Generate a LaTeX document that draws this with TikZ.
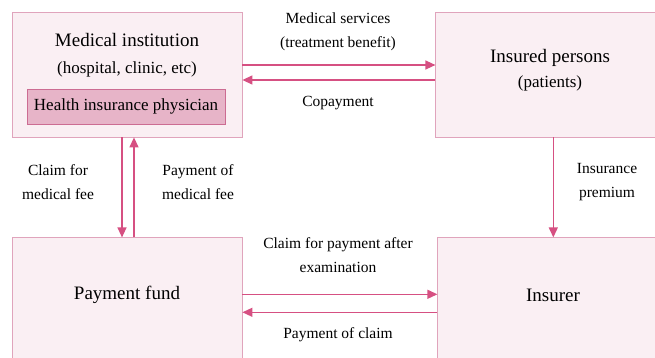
\documentclass[tikz,border=0pt]{standalone}
\usepackage{fontspec}
\setmainfont{Liberation Serif}
\usepackage{tikz}
\usetikzlibrary{positioning}
\usetikzlibrary{arrows.meta}
\definecolor{boxfill}{RGB}{250, 239, 243}
\definecolor{boxline}{RGB}{224, 164, 188}
\definecolor{docfill}{RGB}{231, 180, 200}
\definecolor{docline}{RGB}{204, 108, 146}
\definecolor{flowpink}{RGB}{214, 80, 130}

\begin{document}
\begin{tikzpicture}[
    x=1pt, y=-1pt,
    party/.style={draw=boxline, fill=boxfill, line width=0.8pt,
                  inner sep=0pt},
    physician/.style={draw=docline, fill=docfill, line width=0.8pt,
                  minimum width=198pt, minimum height=35pt, font=\fontsize{17}{20}\selectfont},
    title/.style={align=center, font=\fontsize{19}{27}\selectfont},
    sub/.style={font=\fontsize{17}{27}\selectfont},
    note/.style={align=center, font=\fontsize{15.5}{24.5}\selectfont},
    flow/.style={draw=flowpink, line width=1.3pt,
                 -{Triangle[length=10pt, width=9pt]}},
    >=Latex]
    \useasboundingbox (0,0) rectangle (655,358);
    % the four parties
    \node[party, minimum width=230pt, minimum height=125pt] (medinst) at (127,74.5) {};
    \node[party, minimum width=221pt, minimum height=125pt, right=193pt of medinst] (insured) {};
    \node[party, minimum width=230pt, minimum height=125pt, below=100pt of medinst] (fund) {};
    \node[party, minimum width=219pt, minimum height=125pt, right=195pt of fund] (insurer) {};
    % texts inside
    \node[title] (medtxt) at (127,55)
      {Medical institution\\{\fontsize{17}{27}\selectfont (hospital, clinic, etc)}};
    \node[physician] (doctor) at (126,106.5) {Health insurance physician};
    \node[title] (instxt) at (550,70)
      {Insured persons\\[-2pt]{\fontsize{17}{27}\selectfont (patients)}};
    \node[title] (fundtxt) at (127,295) {Payment fund};
    \node[title] (insurertxt) at (553,295) {Insurer};
    % money and services
    \draw[flow] ([yshift=9.5pt]medinst.east) -- ([yshift=9.5pt]insured.west);
    \draw[flow] ([yshift=-5.5pt]insured.west) -- ([yshift=-5.5pt]medinst.east);
    \draw[flow] ([xshift=-5pt]medinst.south) -- ([xshift=-5pt]fund.north);
    \draw[flow] ([xshift=7pt]fund.north) -- ([xshift=7pt]medinst.south);
    \draw[flow] ([xshift=7pt]insured.south) -- ([xshift=7pt]insured.south |- insurer.north);
    \draw[flow] ([yshift=6pt]fund.east) -- ([yshift=6pt]insurer.west);
    \draw[flow] ([yshift=-12pt]insurer.west) -- ([yshift=-12pt]fund.east);
    % labels
    \node[note] (services) at (338,32) {Medical services\\(treatment benefit)};
    \node[note] (copay) at (338,103) {Copayment};
    \node[note] (claimfee) at (58,182) {Claim for\\medical fee};
    \node[note] (payfee) at (198,182) {Payment of\\medical fee};
    \node[note] (premium) at (607,182) {Insurance\\premium};
    \node[note] (claimpay) at (338,255) {Claim for payment after\\examination};
    \node[note] (payclaim) at (338,335) {Payment of claim};
\end{tikzpicture}
\end{document}
